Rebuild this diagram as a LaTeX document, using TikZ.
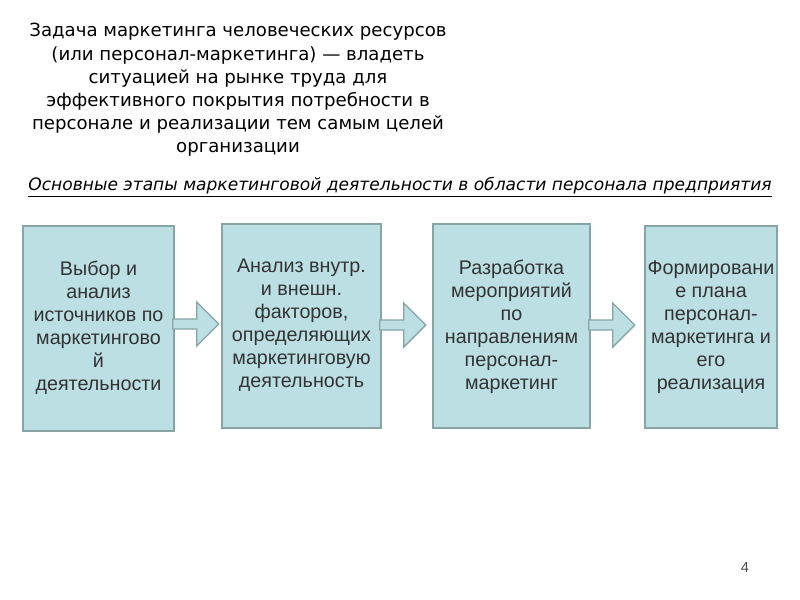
\documentclass[tikz,border=0pt]{standalone}
\usepackage{fontspec}
\setmainfont{Liberation Sans}
\newfontfamily\titlefont{DejaVu Sans}
\usetikzlibrary{calc,fit}
\definecolor{boxfill}{RGB}{187,223,227}
\definecolor{boxline}{RGB}{135,165,165}
\definecolor{txt}{RGB}{51,51,51}
\begin{document}
\begin{tikzpicture}[x=0.75pt,y=-0.75pt,
  stagebox/.style={draw=boxline,fill=boxfill,line width=1.2pt,inner sep=0pt},
  stagetext/.style={font=\fontsize{14.8}{17.25}\selectfont,text=txt,align=center,inner sep=0pt},
  blockarrow/.style={draw=boxline,fill=boxfill,line width=1pt,line join=miter},
  titletext/.style={font=\titlefont\fontsize{13.6}{17.4}\selectfont,align=center,text=black,inner sep=0pt}]
\useasboundingbox (0,0) rectangle (800,600);
\fill[white] (0,0) rectangle (800,600);

\node[titletext] (title) at (238,90) {Задача маркетинга человеческих ресурсов\\
(или персонал-маркетинга) — владеть\\
ситуацией на рынке труда для\\
эффективного покрытия потребности в\\
персонале и реализации тем самым целей\\
организации};

\node[font=\titlefont\itshape\fontsize{12.8}{14}\selectfont,text=black,inner sep=0pt] (sub) at (400,187)
  {\underline{Основные этапы маркетинговой деятельности в области персонала предприятия}};

\node[stagebox,fit={(23,226) (174,431)}] (b1) {};
\node[stagebox,fit={(222,224) (381,428)}] (b2) {};
\node[stagebox,fit={(433,224) (590,428)}] (b3) {};
\node[stagebox,fit={(645,226) (777,428)}] (b4) {};

\node[stagetext] (t1) at ($(b1.center)+(0,-1)$) {Выбор и\\анализ\\источников по\\маркетингово\\й\\деятельности};
\node[stagetext] (t2) at ($(b2.center)+(0,-1)$) {Анализ внутр.\\и внешн.\\факторов,\\определяющих\\маркетинговую\\деятельность};
\node[stagetext] (t3) at ($(b3.center)+(0,1)$) {Разработка\\мероприятий\\по\\направлениям\\персонал-\\маркетинг};
\node[stagetext] (t4) at ($(b4.center)+(0,0)$) {Формировани\\е плана\\персонал-\\маркетинга и\\его\\реализация};

\draw[blockarrow] ($(b1.east)+(-2,-9.5)$) -- ++(24,0) -- ++(0,-17) -- ++(22,22) -- ++(-22,22) -- ++(0,-17) -- ++(-24,0) -- cycle;
\draw[blockarrow] ($(b2.east)+(-2,-6)$) -- ++(24,0) -- ++(0,-17) -- ++(22,22) -- ++(-22,22) -- ++(0,-17) -- ++(-24,0) -- cycle;
\draw[blockarrow] ($(b3.east)+(-2,-6)$) -- ++(24,0) -- ++(0,-17) -- ++(22,22) -- ++(-22,22) -- ++(0,-17) -- ++(-24,0) -- cycle;

\node[font=\fontsize{11}{13}\selectfont,text=black!70] (num) at (745,567) {4};
\end{tikzpicture}
\end{document}
